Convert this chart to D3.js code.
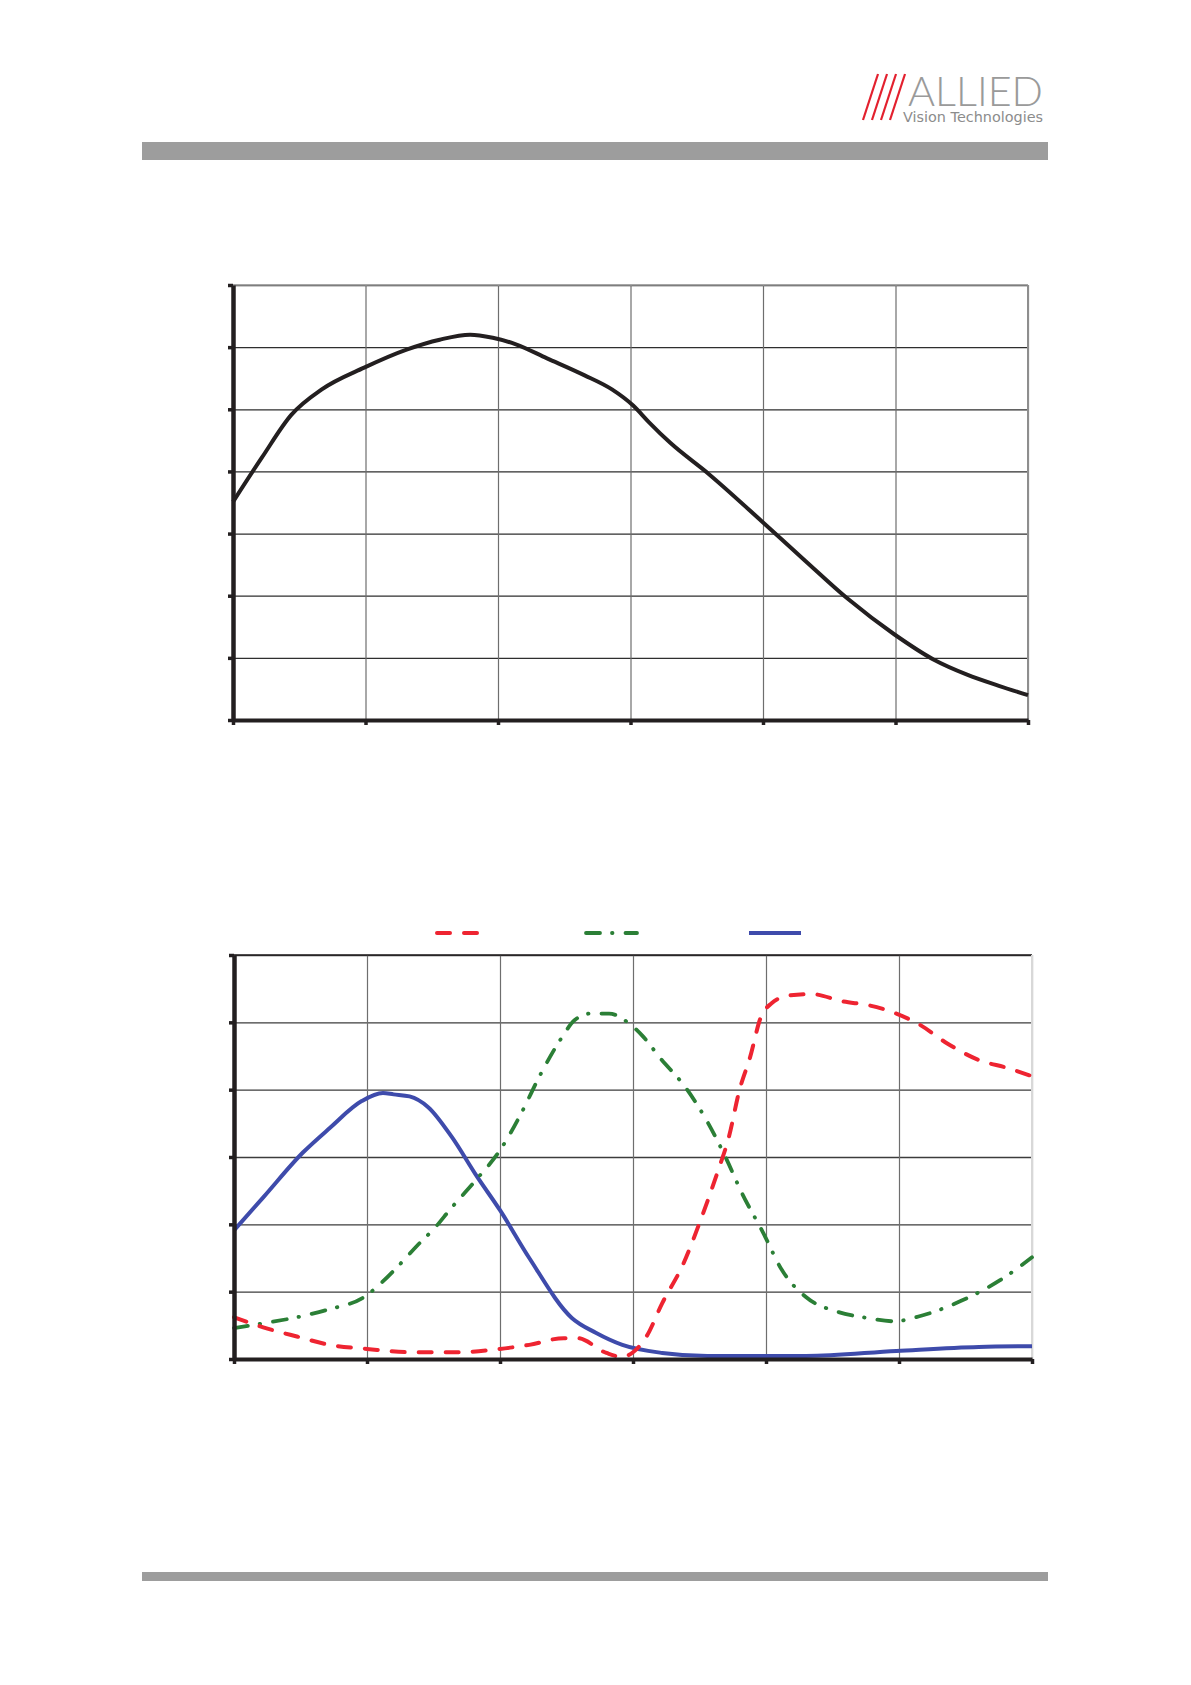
<!DOCTYPE html>
<html>
<head>
<meta charset="utf-8">
<script src="https://cdn.jsdelivr.net/npm/d3@7"></script>
<style>
html,body{margin:0;padding:0;background:#fff;}
svg{display:block;}
</style>
</head>
<body>
<svg id="page" width="1191" height="1685"></svg>
<script>
// ---- Data ----
const topTicksX = [400, 500, 600, 700, 800, 900, 1000];
const topTicksY = [0, 10, 20, 30, 40, 50, 60, 70];
const topWl = [400, 422, 444, 467, 499, 531, 556, 579, 596, 613, 637, 665, 686, 702, 714, 730, 759, 799, 832, 864, 899, 929, 954, 978, 1000];
const topQE = [35.1, 42.3, 49.1, 53.2, 56.7, 59.6, 61.2, 62.0, 61.5, 60.5, 58.2, 55.5, 53.2, 50.6, 47.9, 44.6, 39.6, 32.0, 25.6, 19.5, 13.8, 9.7, 7.3, 5.5, 4.0];

const botTicksX = [400, 450, 500, 550, 600, 650, 700];
const botTicksY = [0, 10, 20, 30, 40, 50, 60];
const redWl = [400, 411, 424, 436, 450, 467, 484, 500, 511, 524, 529, 540, 546, 550, 555, 561, 569, 575, 582, 586, 590, 594, 598, 602, 609, 617, 629, 639, 649, 658, 668, 680, 691, 700];
const redVal = [6.2, 4.7, 3.3, 2.1, 1.5, 1.0, 1.0, 1.5, 2.1, 3.1, 3.1, 0.9, 0.3, 1.0, 3.3, 8.3, 14.2, 20.2, 28.0, 32.9, 39.9, 44.8, 50.7, 52.8, 54.0, 54.2, 53.1, 52.5, 51.3, 49.6, 46.9, 44.4, 43.2, 42.0];
const greenWl = [400, 411, 426, 435, 450, 454, 461, 469, 476, 481, 491, 500, 508, 515, 523, 528, 534, 541, 548, 554, 560, 570, 578, 585, 591, 599, 606, 615, 627, 638, 648, 659, 674, 688, 700];
const greenVal = [4.6, 5.3, 6.4, 7.3, 9.5, 10.8, 13.5, 16.9, 19.7, 22.1, 26.6, 31.0, 36.5, 42.1, 47.6, 50.3, 51.3, 51.3, 50.0, 47.8, 44.8, 40.2, 35.2, 29.8, 24.6, 18.7, 13.2, 9.2, 7.0, 6.1, 5.6, 6.5, 8.75, 11.7, 15.1];
const blueWl = [400, 411, 426, 436, 448, 456, 460, 466, 473, 482, 491, 500, 511, 527, 536, 546, 561, 578, 615, 649, 680, 700];
const blueVal = [19.1, 24.0, 30.7, 34.3, 38.3, 39.5, 39.3, 39.0, 37.4, 32.9, 27.3, 22.1, 15.0, 6.1, 3.9, 2.1, 0.9, 0.45, 0.45, 1.2, 1.8, 1.9];

const svg = d3.select("#page");

// ---- Header / footer ----
svg.append("rect").attr("x", 142).attr("y", 142).attr("width", 906).attr("height", 18).attr("fill", "#9d9d9d");
svg.append("rect").attr("x", 142).attr("y", 1572).attr("width", 906).attr("height", 9).attr("fill", "#9d9d9d");

const logo = svg.append("g");
[0, 1, 2, 3].forEach(i => {
  logo.append("line")
    .attr("x1", 863 + i * 9).attr("y1", 120)
    .attr("x2", 878 + i * 9).attr("y2", 74)
    .attr("stroke", "#e3202e").attr("stroke-width", 2.2);
});
logo.append("text").attr("x", 908).attr("y", 106)
  .attr("font-family", "Lato, 'DejaVu Sans', sans-serif").attr("font-weight", 300)
  .attr("font-size", 42).attr("fill", "#9a9a9a")
  .attr("textLength", 135).attr("lengthAdjust", "spacingAndGlyphs").text("ALLIED");
logo.append("text").attr("x", 903).attr("y", 122)
  .attr("font-family", "'DejaVu Sans', sans-serif")
  .attr("font-size", 14).attr("fill", "#8c8c8c")
  .attr("textLength", 140).attr("lengthAdjust", "spacingAndGlyphs").text("Vision Technologies");

// ---- Helper to draw a framed chart ----
function frame(x, y, opts) {
  const g = svg.append("g");
  const [x0, x1] = x.range();
  const [y0, y1] = y.range(); // y0 bottom, y1 top
  g.append("g").attr("transform", `translate(${x0},0)`)
    .call(d3.axisLeft(y).tickValues(opts.yt).tickSize(-(x1 - x0)).tickFormat("").tickSizeOuter(0))
    .call(s => s.select(".domain").remove())
    .call(s => s.selectAll(".tick line").attr("stroke", opts.hGrid).attr("stroke-width", 1.3));
  g.append("g").attr("transform", `translate(0,${y0})`)
    .call(d3.axisBottom(x).tickValues(opts.xt).tickSize(-(y0 - y1)).tickFormat("").tickSizeOuter(0))
    .call(s => s.select(".domain").remove())
    .call(s => s.selectAll(".tick line").attr("stroke", opts.vGrid).attr("stroke-width", 1.2));
  g.append("line").attr("x1", x0).attr("x2", x1).attr("y1", y1).attr("y2", y1)
    .attr("stroke", opts.topBorder).attr("stroke-width", 1.6);
  g.append("line").attr("x1", x1).attr("x2", x1).attr("y1", y1).attr("y2", y0)
    .attr("stroke", opts.rightBorder).attr("stroke-width", 2);
  return g;
}
function axes(x, y, opts) {
  const [x0, x1] = x.range();
  const [y0, y1] = y.range();
  const g = svg.append("g");
  g.append("g").attr("transform", `translate(${x0},0)`)
    .call(d3.axisLeft(y).tickValues(opts.yt).tickSize(5).tickFormat("").tickSizeOuter(0))
    .call(s => s.select(".domain").attr("stroke", "#231f20").attr("stroke-width", 4.5))
    .call(s => s.selectAll(".tick line").attr("stroke", "#231f20").attr("stroke-width", 3.5));
  g.append("g").attr("transform", `translate(0,${y0})`)
    .call(d3.axisBottom(x).tickValues(opts.xt).tickSize(5).tickFormat("").tickSizeOuter(0))
    .call(s => s.select(".domain").attr("stroke", "#231f20").attr("stroke-width", 4))
    .call(s => s.selectAll(".tick line").attr("stroke", "#231f20").attr("stroke-width", 3.5));
}

// ---- Top chart ----
const xT = d3.scaleLinear().domain([400, 1000]).range([233, 1028]);
const yT = d3.scaleLinear().domain([0, 70]).range([720, 285]);
frame(xT, yT, {xt: topTicksX, yt: topTicksY, hGrid: "#2e2e2e", vGrid: "#6e6e6e", topBorder: "#9a9a9a", rightBorder: "#8e8e8e"});
const topLine = d3.line().x(d => xT(d[0])).y(d => yT(d[1])).curve(d3.curveMonotoneX);
svg.append("path").attr("d", topLine(topWl.map((w, i) => [w, topQE[i]])))
  .attr("fill", "none").attr("stroke", "#231f20").attr("stroke-width", 4).attr("stroke-linejoin", "round");
axes(xT, yT, {xt: topTicksX, yt: topTicksY});

// ---- Bottom chart ----
const xB = d3.scaleLinear().domain([400, 700]).range([234, 1032]);
const yB = d3.scaleLinear().domain([0, 60]).range([1359, 955]);
frame(xB, yB, {xt: botTicksX, yt: botTicksY, hGrid: "#3c3c3c", vGrid: "#6e6e6e", topBorder: "#231f20", rightBorder: "#d8d8d8"});
const botLine = d3.line().x(d => xB(d[0])).y(d => yB(d[1])).curve(d3.curveMonotoneX);
const series = [
  {wl: redWl, v: redVal, color: "#ee2431", dash: "13 14", w: 4},
  {wl: greenWl, v: greenVal, color: "#2b7f36", dash: "14 12 0.5 13", w: 3.8},
  {wl: blueWl, v: blueVal, color: "#3e4bab", dash: null, w: 4}
];
[series[2], series[1], series[0]].forEach(s => {
  svg.append("path").attr("d", botLine(s.wl.map((w, i) => [w, s.v[i]])))
    .attr("fill", "none").attr("stroke", s.color).attr("stroke-width", s.w)
    .attr("stroke-linecap", s.dash ? "round" : "butt").attr("stroke-linejoin", "round")
    .attr("stroke-dasharray", s.dash);
});
axes(xB, yB, {xt: botTicksX, yt: botTicksY});

// ---- Legend (symbols only) ----
const legendX = [437, 586, 749];
const legendW = [41, 51, 52];
series.forEach((s, i) => {
  svg.append("line").attr("x1", legendX[i]).attr("x2", legendX[i] + legendW[i])
    .attr("y1", 933).attr("y2", 933)
    .attr("stroke", s.color).attr("stroke-width", s.w)
    .attr("stroke-linecap", s.dash ? "round" : "butt")
    .attr("stroke-dasharray", s.dash);
});
</script>
</body>
</html>
